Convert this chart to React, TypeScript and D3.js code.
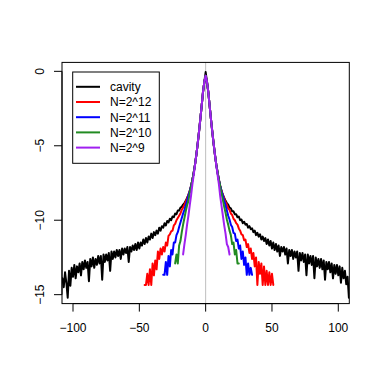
import React from 'react';
import * as d3 from 'd3';

// ---- data (log probability vs displacement) ----
const cavityStart = -108;
const cavityVals = [
  -13.9,-14.5,-13.5,-14.2,-15.2,-13.4,-14.4,-13.2,-13.8,-13.0,
  -13.9,-13.1,-13.5,-12.9,-13.7,-12.8,-13.3,-12.7,-13.2,-12.8,
  -14.1,-12.6,-13.1,-12.5,-13.2,-12.6,-13.0,-12.4,-12.9,-12.4,
  -14.0,-12.3,-12.8,-12.3,-12.7,-12.2,-13.4,-12.1,-12.6,-12.1,
  -12.5,-12.0,-12.4,-12.0,-12.6,-11.9,-12.3,-11.9,-12.2,-11.8,
  -12.8,-11.8,-12.1,-11.7,-12.0,-11.6,-12.0,-11.5,-11.9,-11.5,
  -11.7,-11.3,-11.6,-11.2,-11.5,-11.1,-11.3,-10.9,-11.2,-10.8,
  -11.0,-10.7,-10.9,-10.5,-10.7,-10.4,-10.5,-10.2,-10.35,-10.05,
  -10.15,-9.9,-10.0,-9.75,-9.8,-9.55,-9.6,-9.35,-9.35,-9.15,
  -9.1,-8.95,-8.85,-8.7,-8.5,-8.3,-8.05,-7.7,-7.3,-6.8,
  -6.25,-5.6,-4.85,-4.05,-3.2,-2.3,-1.4,-0.7,
  -0.05,
  -0.7,-1.4,-2.3,-3.2,-4.05,-4.85,-5.6,-6.25,-6.8,-7.3,
  -7.7,-8.05,-8.3,-8.5,-8.7,-8.85,-8.95,-9.15,-9.2,-9.4,
  -9.4,-9.6,-9.6,-9.8,-9.75,-10.0,-9.95,-10.2,-10.1,-10.3,
  -10.25,-10.5,-10.4,-10.6,-10.55,-10.8,-10.7,-11.0,-10.85,-11.1,
  -10.95,-11.3,-11.1,-11.4,-11.2,-11.6,-11.3,-11.7,-11.4,-11.9,
  -11.5,-12.0,-11.6,-12.1,-11.7,-12.4,-11.8,-12.1,-11.8,-12.3,
  -11.9,-12.9,-12.0,-12.4,-12.0,-12.6,-12.1,-12.5,-12.1,-13.4,
  -12.2,-12.7,-12.2,-12.8,-12.3,-13.7,-12.3,-12.9,-12.4,-13.0,
  -12.4,-13.9,-12.5,-13.1,-12.6,-13.2,-12.6,-13.3,-12.7,-14.0,
  -12.8,-13.3,-12.8,-13.5,-12.9,-13.9,-13.0,-13.6,-13.0,-13.7,
  -13.1,-14.2,-13.2,-13.9,-13.4,-14.3,-13.8,-15.2,
];

const n12Start = -46;
const n12Vals = [
  -14.35,-14.35,-13.6,-14.35,-13.3,-14.35,-12.9,-13.7,-12.7,-13.3,
  -12.1,-12.6,-11.9,-12.3,-11.8,-12.1,-11.5,-11.7,-11.05,-10.95,
  -10.75,-10.7,-10.35,-10.25,-10.0,-9.85,-9.7,-9.55,-9.3,-9.15,
  -8.95,-8.75,-8.55,-8.3,-8.05,-7.7,-7.3,-6.8,-6.25,-5.6,
  -4.85,-4.05,-3.2,-2.3,-1.4,-0.7,
  -0.3,
  -0.7,-1.4,-2.3,-3.2,-4.05,-4.85,-5.6,-6.25,-6.8,-7.3,
  -7.7,-8.05,-8.3,-8.55,-8.8,-8.95,-9.2,-9.3,-9.55,-9.65,
  -9.9,-10.0,-10.2,-10.3,-10.55,-10.7,-10.95,-11.0,-11.35,-11.3,
  -11.8,-11.6,-12.2,-11.9,-12.6,-12.2,-13.1,-12.5,-14.35,-12.8,
  -13.6,-12.9,-14.35,-13.1,-14.35,-13.4,-14.35,-13.5,-14.35,-13.6,
  -14.35,
];

const n11Start = -32;
const n11Vals = [
  -13.67,-13.67,-12.8,-13.67,-12.4,-13.1,-12.0,-12.3,-11.5,-11.5,
  -11.0,-10.8,-10.45,-10.15,-9.85,-9.55,-9.3,-9.0,-8.7,-8.35,
  -8.05,-7.7,-7.3,-6.8,-6.25,-5.6,-4.85,-4.05,-3.2,-2.3,
  -1.4,-0.7,
  -0.3,
  -0.7,-1.4,-2.3,-3.2,-4.05,-4.85,-5.6,-6.25,-6.8,-7.3,
  -7.7,-8.05,-8.35,-8.7,-9.0,-9.35,-9.7,-9.95,-10.3,-10.45,
  -10.85,-10.9,-11.4,-11.3,-11.9,-11.7,-12.6,-12.1,-13.0,-12.5,
  -13.67,-12.9,-13.67,-13.2,-13.67,
];

const n10Start = -23;
const n10Vals = [
  -12.9,-12.3,-12.9,-11.7,-11.4,-10.8,-10.3,-9.85,-9.4,-9.0,
  -8.7,-8.15,-7.75,-7.3,-6.8,-6.25,-5.6,-4.85,-4.05,-3.2,
  -2.3,-1.4,-0.7,
  -0.3,
  -0.7,-1.4,-2.3,-3.2,-4.05,-4.85,-5.6,-6.25,-6.8,-7.3,
  -7.75,-8.2,-8.65,-9.1,-9.5,-9.95,-10.3,-10.7,-11.0,-11.6,
  -11.5,-12.3,-12.0,-12.9,-12.9,
];

const n9Start = -17;
const n9Vals = [
  -12.3,-11.6,-11.0,-10.3,-9.7,-9.0,-8.35,-7.6,-6.95,-6.3,
  -5.6,-4.85,-4.05,-3.2,-2.3,-1.4,-0.7,
  -0.3,
  -0.7,-1.4,-2.3,-3.2,-4.05,-4.85,-5.6,-6.3,-6.95,-7.6,
  -8.4,-9.05,-9.7,-10.35,-10.9,-11.6,-11.8,-12.3,
];

const seriesNames = ['cavity', 'N=2^12', 'N=2^11', 'N=2^10', 'N=2^9'];
const seriesColors = ['#000000', '#ff0000', '#0000ff', '#228b22', '#a020f0'];
const seriesStarts = [cavityStart, n12Start, n11Start, n10Start, n9Start];
const seriesVals = [cavityVals, n12Vals, n11Vals, n10Vals, n9Vals];

const xTickValues = [-100, -50, 0, 50, 100];
const xTickLabels = ['\u2212100', '\u221250', '0', '50', '100'];
const yTickValues = [0, -5, -10, -15];
const yTickLabels = ['0', '\u22125', '\u221210', '\u221215'];

const W = 382, H = 382;
const L = 62, R = 349.3, T = 62.4, B = 303.6;

export default function App() {
  const x = d3.scaleLinear().domain([-108.3, 108.3]).range([L, R]);
  const y = d3.scaleLinear().domain([-15.6, 0.6]).range([B, T]);
  const line = d3.line<[number, number]>().x(d => x(d[0])).y(d => y(d[1]));
  const font = '"Liberation Sans", Arial, Helvetica, sans-serif';

  const paths = seriesVals.map((vals, si) => {
    const pts: [number, number][] = vals.map((v, i) => [seriesStarts[si] + i, v]);
    return line(pts) || '';
  });

  const legX = 72.7, legY = 72, legW = 86.6, legH = 91.3;
  const rowY0 = 86.8, rowStep = 15.2;

  return (
    <svg width={W} height={H} style={{ position: 'absolute', left: 0, top: 0, background: '#fff' }}
      fontFamily={font}>
      <rect x={0} y={0} width={W} height={H} fill="#fff" />
      <defs>
        <clipPath id="plotclip">
          <rect x={L} y={T} width={R - L} height={B - T} />
        </clipPath>
      </defs>
      {/* vertical reference line at 0 */}
      <line x1={x(0)} x2={x(0)} y1={T} y2={B} stroke="#bebebe" strokeWidth={1} />
      <g clipPath="url(#plotclip)">
        {paths.map((p, i) => (
          <path key={i} d={p} fill="none" stroke={seriesColors[i]} strokeWidth={2}
            strokeLinejoin="round" strokeLinecap="round" />
        ))}
      </g>
      {/* box */}
      <rect x={L} y={T} width={R - L} height={B - T} fill="none" stroke="#000" strokeWidth={1} />
      {/* x axis */}
      <line x1={x(-100)} x2={x(100)} y1={B} y2={B} stroke="#000" strokeWidth={1} />
      {xTickValues.map((v, i) => (
        <g key={'xt' + i}>
          <line x1={x(v)} x2={x(v)} y1={B} y2={B + 8} stroke="#000" strokeWidth={1} />
          <text x={x(v)} y={331.6} fontSize={12} textAnchor="middle" fill="#000">{xTickLabels[i]}</text>
        </g>
      ))}
      {/* y axis */}
      <line x1={L} x2={L} y1={y(0)} y2={y(-15)} stroke="#000" strokeWidth={1} />
      {yTickValues.map((v, i) => (
        <g key={'yt' + i}>
          <line x1={L - 8} x2={L} y1={y(v)} y2={y(v)} stroke="#000" strokeWidth={1} />
          <text transform={`translate(40.2, ${y(v)}) rotate(-90)`} dy="0.35em" fontSize={12}
            textAnchor="middle" fill="#000">{yTickLabels[i]}</text>
        </g>
      ))}
      {/* legend */}
      <rect x={legX} y={legY} width={legW} height={legH} fill="#fff" stroke="#000" strokeWidth={1} />
      {seriesNames.map((name, i) => (
        <g key={'lg' + i}>
          <line x1={76} x2={100} y1={rowY0 + i * rowStep} y2={rowY0 + i * rowStep}
            stroke={seriesColors[i]} strokeWidth={2} />
          <text x={110} y={rowY0 + i * rowStep + 4.4} fontSize={12} fill="#000">{name}</text>
        </g>
      ))}
    </svg>
  );
}
